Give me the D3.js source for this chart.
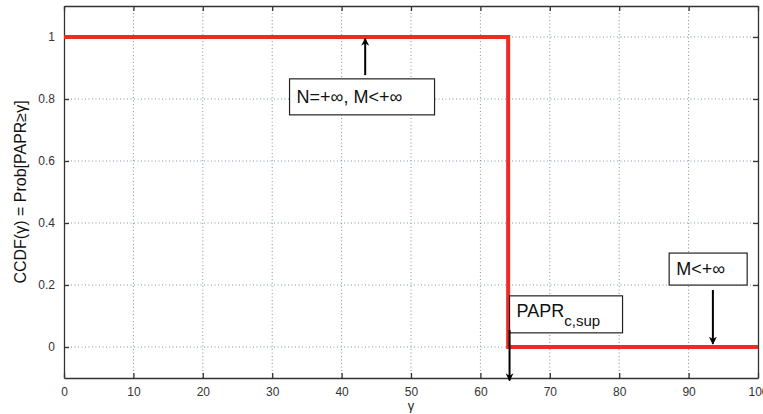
<!DOCTYPE html>
<html><head><meta charset="utf-8">
<script src="https://cdn.jsdelivr.net/npm/d3@7"></script>
<style>body{margin:0;background:#fff}svg{display:block;font-family:"Liberation Sans",Arial,sans-serif}</style>
</head><body><svg id="c" width="763" height="414"></svg>
<script>
const xTicks = [0,10,20,30,40,50,60,70,80,90,100];
const yTicks = [0,0.2,0.4,0.6,0.8,1];
const yTickLabels = ["0","0.2","0.4","0.6","0.8","1"];
const stepX = [0, 64, 64, 100];
const stepY = [1, 1, 0, 0];
const annotations = [
  {text:"N=+\u221e, M<+\u221e", sub:"", bx:32.5, by:0.865, bw:145, bh:36, ax:43.4, ay0:0.877, ay1:0.995},
  {text:"PAPR", sub:"c,sup", bx:64.2, by:0.165, bw:113, bh:37, ax:64.2, ay0:0.055, ay1:-0.108},
  {text:"M<+\u221e", sub:"", bx:87.2, by:0.303, bw:78, bh:32, ax:93.5, ay0:0.184, ay1:0.01}
];

const svg = d3.select("#c");
const L=64, R=758, T=6, B=378;
const x = d3.scaleLinear().domain([0,100]).range([L,R]);
const y = d3.scaleLinear().domain([-0.1,1.1]).range([B,T]);

svg.append("defs").append("marker").attr("id","ah").attr("viewBox","0 0 10 10")
  .attr("refX",9).attr("refY",5).attr("markerWidth",8).attr("markerHeight",14).attr("orient","auto")
  .attr("markerUnits","userSpaceOnUse")
  .append("path").attr("d","M0,0 L10,5 L0,10 L3,5 Z").attr("fill","#000");

// grid
const g = svg.append("g");
g.selectAll(".vg").data(xTicks.slice(1,-1)).enter().append("line")
  .attr("x1",d=>x(d)).attr("x2",d=>x(d)).attr("y1",T).attr("y2",B)
  .attr("stroke","#7f93a8").attr("stroke-width",1).attr("stroke-dasharray","1,2.5");
g.selectAll(".hg").data(yTicks).enter().append("line")
  .attr("x1",L).attr("x2",R).attr("y1",d=>y(d)).attr("y2",d=>y(d))
  .attr("stroke","#7f93a8").attr("stroke-width",1).attr("stroke-dasharray","1,2.5");

// axes
const axB = d3.axisBottom(x).tickValues(xTicks).tickSizeInner(-5).tickSizeOuter(0).tickPadding(9);
const axL = d3.axisLeft(y).tickValues(yTicks).tickFormat((d,i)=>yTickLabels[i]).tickSizeInner(-5).tickSizeOuter(0).tickPadding(9);
const axT = d3.axisTop(x).tickValues(xTicks).tickSizeInner(-5).tickSizeOuter(0).tickFormat("");
const axR = d3.axisRight(y).tickValues(yTicks).tickSizeInner(-5).tickSizeOuter(0).tickFormat("");
const gb = svg.append("g").attr("transform",`translate(0,${B})`).call(axB);
const gl = svg.append("g").attr("transform",`translate(${L},0)`).call(axL);
const gt = svg.append("g").attr("transform",`translate(0,${T})`).call(axT);
const gr = svg.append("g").attr("transform",`translate(${R},0)`).call(axR);
[gb,gl,gt,gr].forEach(a=>{
  a.selectAll("path").attr("stroke","#333").attr("stroke-width",1.3);
  a.selectAll("line").attr("stroke","#333").attr("stroke-width",1.3);
  a.selectAll("text").attr("fill","#333").style("font-size","12px").style("font-family","'Liberation Sans',Arial,sans-serif");
});

// step line
const line = d3.line().x((d,i)=>x(stepX[i])).y((d,i)=>y(stepY[i]));
svg.append("path").datum(stepX).attr("d",line).attr("fill","none")
  .attr("stroke","#ee2a24").attr("stroke-width",4).attr("stroke-linejoin","miter");

// annotations
annotations.forEach(a=>{
  const px = x(a.bx), py = y(a.by);
  svg.append("rect").attr("x",px).attr("y",py).attr("width",a.bw).attr("height",a.bh)
    .attr("fill","#fff").attr("stroke","#222").attr("stroke-width",1.2);
  const t = svg.append("text").attr("x",px+7).attr("y",py+a.bh/2+(a.sub?3:6))
    .style("font-size","18px").attr("fill","#111").text(a.text);
  if(a.sub) t.append("tspan").attr("dy",9).style("font-size","15px").text(a.sub);
  svg.append("line").attr("x1",x(a.ax)).attr("x2",x(a.ax)).attr("y1",y(a.ay0)).attr("y2",y(a.ay1))
    .attr("stroke","#000").attr("stroke-width",2).attr("marker-end","url(#ah)");
});

// axis labels
svg.append("text").attr("transform",`translate(26,${192}) rotate(-90)`).attr("text-anchor","middle")
  .style("font-size","16px").attr("fill","#111").text("CCDF(\u03b3) = Prob[PAPR\u2265\u03b3]");
svg.append("text").attr("x",(L+R)/2).attr("y",410).attr("text-anchor","middle")
  .style("font-size","13px").attr("fill","#222").text("\u03b3");
</script></body></html>
